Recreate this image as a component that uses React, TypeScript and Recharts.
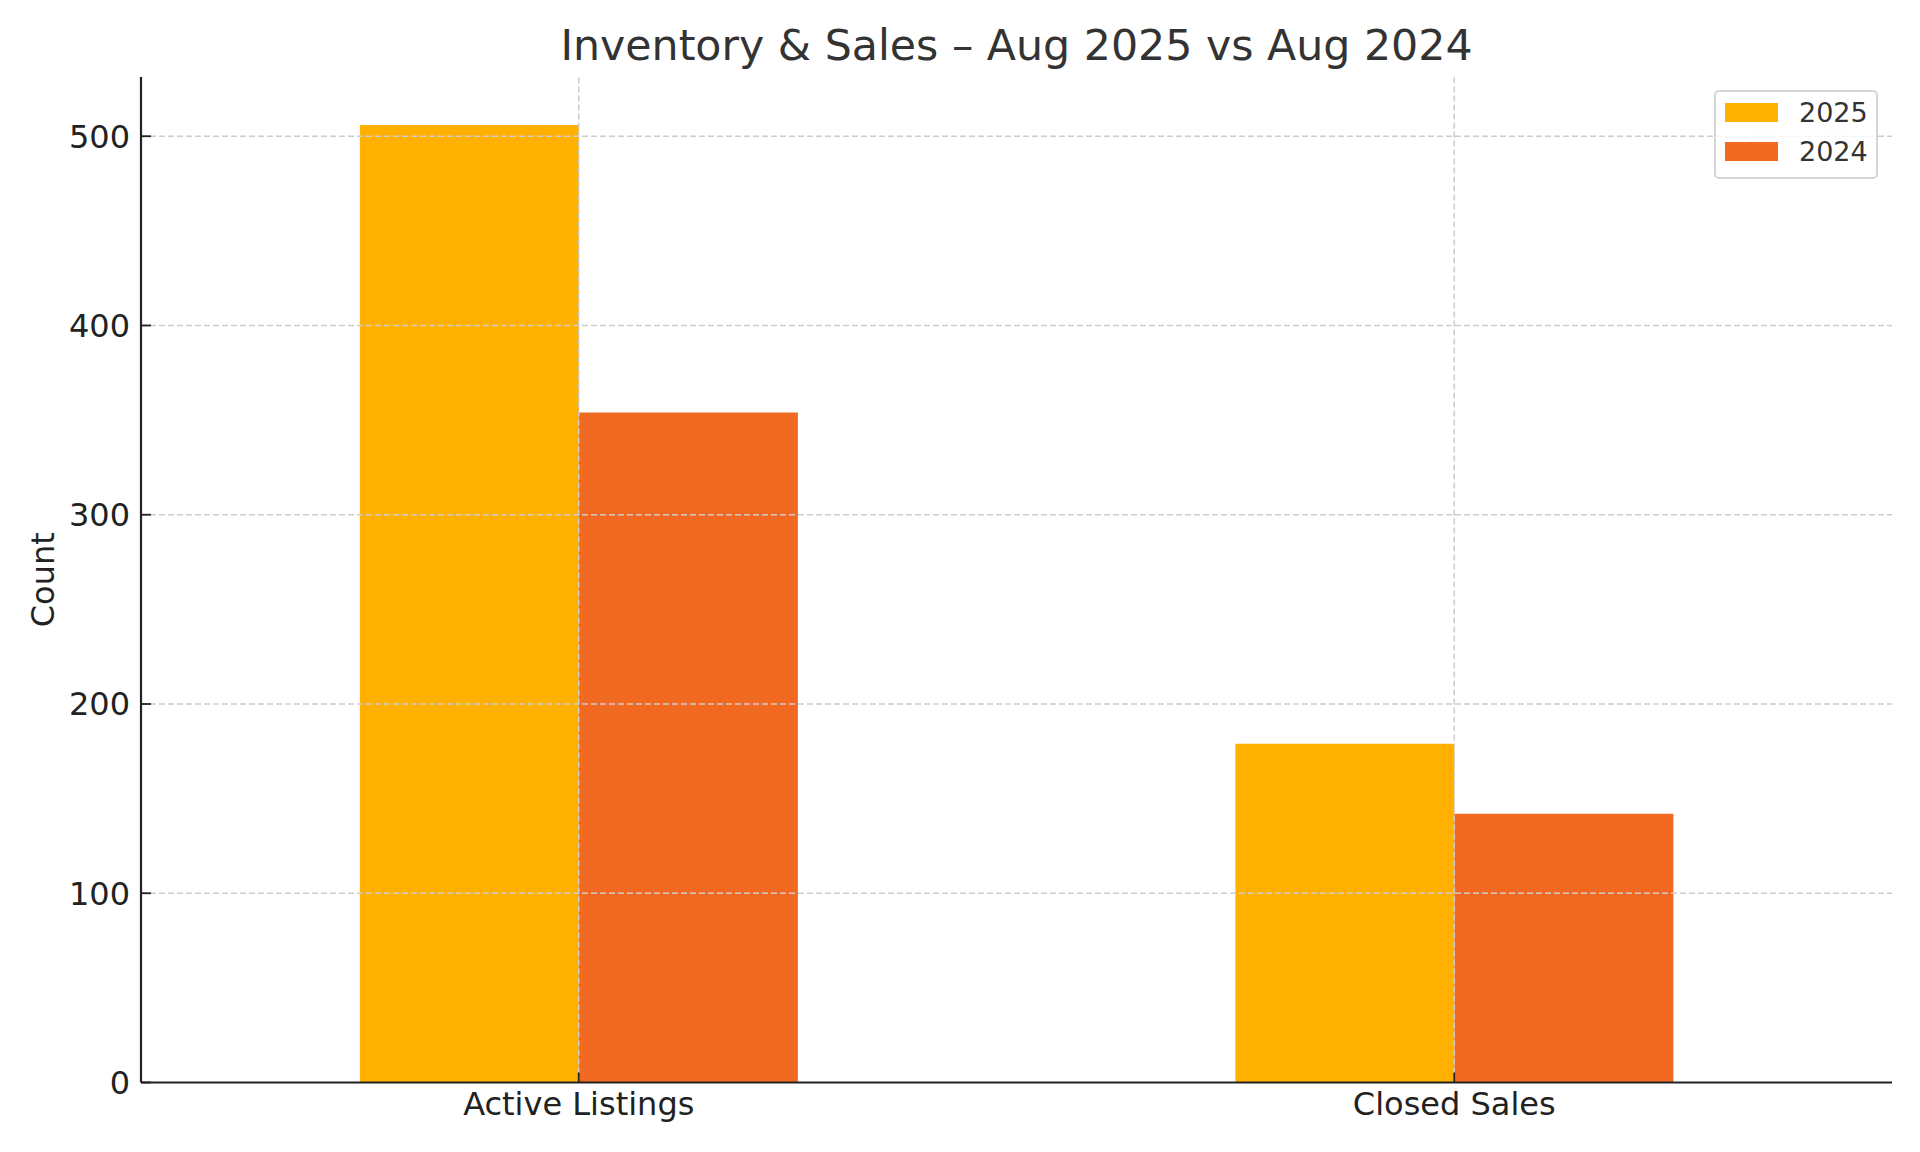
import React from 'react';
import { BarChart, Bar, XAxis, YAxis, ReferenceLine, Legend } from 'recharts';

const categories = ['Active Listings', 'Closed Sales'];
const values2025 = [506, 179];
const values2024 = [354, 142];
const yTicks = [0, 100, 200, 300, 400, 500];
const seriesNames = ['2025', '2024'];
const seriesColors = ['#FFB000', '#F26A21'];
const title = 'Inventory & Sales – Aug 2025 vs Aug 2024';
const yLabel = 'Count';

const data = categories.map((c, i) => ({
  name: c,
  [seriesNames[0]]: values2025[i],
  [seriesNames[1]]: values2024[i],
}));

const FONT = '"DejaVu Sans", sans-serif';
const GRID = { stroke: '#cccccc', strokeWidth: 1.5, strokeDasharray: '6 3' };

const LegendBox = (props: any) => {
  const items = [...(props.payload || [])].sort(
    (a: any, b: any) => seriesNames.indexOf(String(a.value)) - seriesNames.indexOf(String(b.value))
  );
  return (
    <div
      style={{
        border: '2px solid #d6d6d6',
        borderRadius: 5,
        background: 'rgba(255,255,255,0.8)',
        width: 164,
        height: 89,
        boxSizing: 'border-box',
        paddingTop: 1,
        fontFamily: FONT,
      }}
    >
      {items.map((p: any) => (
        <div key={p.value} style={{ display: 'flex', alignItems: 'center', height: 39 }}>
          <div style={{ width: 53, height: 19, background: p.color, marginLeft: 9 }} />
          <div style={{ marginLeft: 21, fontSize: 27, color: '#333', lineHeight: '30px' }}>{p.value}</div>
        </div>
      ))}
    </div>
  );
};

export default function App() {
  return (
    <div style={{ position: 'absolute', left: 0, top: 0, width: 1920, height: 1152, background: '#fff' }}>
      <div
        style={{
          position: 'absolute',
          left: 141,
          width: 1751,
          top: 20,
          textAlign: 'center',
          fontFamily: FONT,
          fontSize: 42.7,
          color: '#333',
          lineHeight: '50px',
          whiteSpace: 'nowrap',
        }}
      >
        {title}
      </div>
      <BarChart
        width={1920}
        height={1152}
        data={data}
        margin={{ top: 77, right: 28, bottom: 0, left: 0 }}
        barCategoryGap="25%"
        barGap={0}
      >
        <XAxis
          dataKey="name"
          height={69.5}
          axisLine={{ stroke: '#222', strokeWidth: 2.2 }}
          tickLine={{ stroke: '#222', strokeWidth: 1.8 }}
          tickSize={-10}
          tickMargin={19.5}
          tick={{ fontFamily: FONT, fontSize: 32, fill: '#222' }}
        />
        <YAxis
          width={141}
          domain={[0, 531.3]}
          ticks={yTicks}
          axisLine={{ stroke: '#222', strokeWidth: 2.2 }}
          tickLine={{ stroke: '#222', strokeWidth: 1.8 }}
          tickSize={-10}
          tickMargin={21}
          tick={{ fontFamily: FONT, fontSize: 32, fill: '#222' }}
          label={{
            value: yLabel,
            content: (p: any) => {
              const vb = p.viewBox || {};
              const cy = (vb.y || 0) + (vb.height || 0) / 2;
              return (
                <text
                  x={43}
                  y={cy}
                  transform={`rotate(-90, 43, ${cy})`}
                  textAnchor="middle"
                  dominantBaseline="central"
                  fontFamily={FONT}
                  fontSize={32}
                  fill="#222"
                >
                  {yLabel}
                </text>
              );
            },
          }}
        />
        <Bar dataKey={seriesNames[0]} fill={seriesColors[0]} isAnimationActive={false} />
        <Bar dataKey={seriesNames[1]} fill={seriesColors[1]} isAnimationActive={false} />
        {yTicks.filter((t) => t > 0).map((t) => (
          <ReferenceLine key={`y${t}`} y={t} {...GRID} />
        ))}
        {categories.map((c) => (
          <ReferenceLine key={`x${c}`} x={c} {...GRID} />
        ))}
        <Legend
          content={<LegendBox />}
          layout="vertical"
          align="center"
          verticalAlign="middle"
          wrapperStyle={{ position: 'absolute', left: 1714, top: 90, width: 164, height: 89 }}
        />
      </BarChart>
    </div>
  );
}
